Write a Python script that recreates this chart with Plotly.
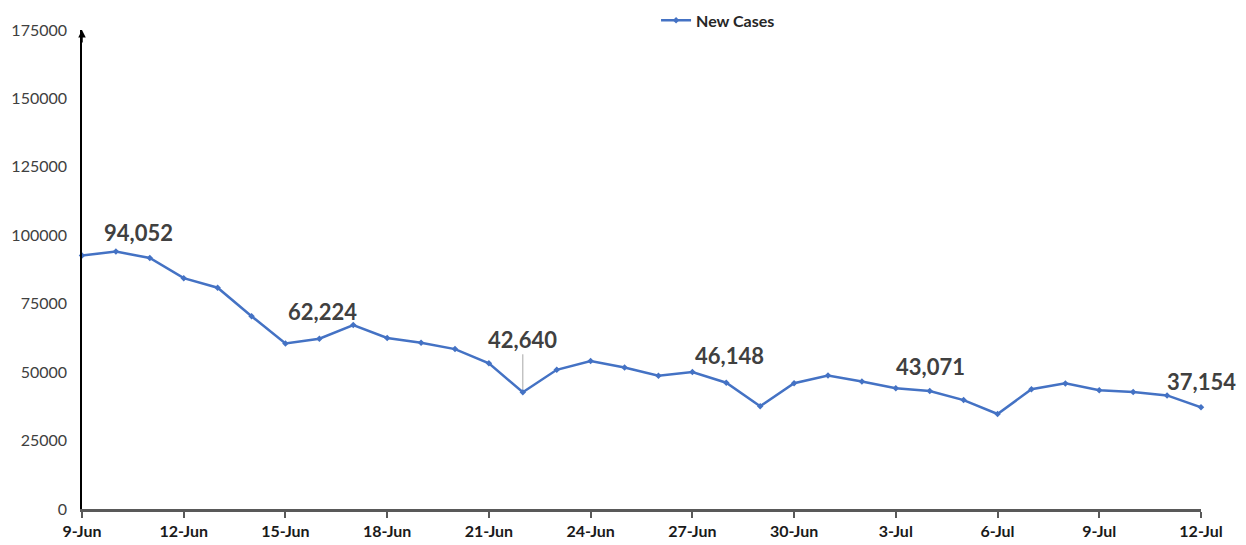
import plotly.graph_objects as go
import pandas as pd

dates = pd.date_range("2021-06-09", "2021-07-12", freq="D")
new_cases = [92596, 94052, 91702, 84332, 80834, 70421, 60471, 62224, 67208, 62480,
             60753, 58419, 53256, 42640, 50848, 54069, 51667, 48698, 50040, 46148,
             37566, 45951, 48786, 46617, 44111, 43071, 39796, 34703, 43733, 45892,
             43393, 42766, 41506, 37154]
labeled_dates = ["2021-06-10", "2021-06-16", "2021-06-22", "2021-06-28", "2021-07-04", "2021-07-12"]
label_xshift = [23, 3, 0, 3, 1, 0]
label_yshift = [19, 27, 0, 27, 25, 26]
y_ticks = [0, 25000, 50000, 75000, 100000, 125000, 150000, 175000]

blue = "#4472C4"
txt = "#404040"

fig = go.Figure()
fig.add_trace(go.Scatter(
    x=dates, y=new_cases, mode="lines+markers", name="New Cases",
    line=dict(color=blue, width=2.5),
    marker=dict(color=blue, size=5, symbol="diamond"),
    cliponaxis=False,
))

val_by_date = dict(zip(dates.strftime("%Y-%m-%d"), new_cases))
for d, xs, ys in zip(labeled_dates, label_xshift, label_yshift):
    v = val_by_date[d]
    if d == "2021-06-22":
        fig.add_annotation(x=d, y=v, text=f"{v:,}", showarrow=True, ax=0, ay=-53,
                           arrowhead=0, arrowwidth=1, arrowcolor="#a6a6a6", standoff=3,
                           font=dict(family="Lato", size=22, color=txt, weight="bold"))
    else:
        fig.add_annotation(x=d, y=v, text=f"{v:,}", showarrow=False, yshift=ys, xshift=xs,
                           font=dict(family="Lato", size=22, color=txt, weight="bold"))

# arrow at the top of y axis
fig.add_annotation(xref="paper", yref="paper", x=0, y=1.0, ax=0, ay=14, text="",
                   showarrow=True, arrowhead=2, arrowsize=1, arrowwidth=1.5, arrowcolor="#000000",
                   standoff=0)

fig.update_layout(
    width=1246, height=545,
    margin=dict(l=74, r=53, t=22, b=44, autoexpand=False),
    paper_bgcolor="white", plot_bgcolor="white",
    showlegend=True,
    legend=dict(x=0.513, y=1.02, xanchor="left", yanchor="middle", orientation="h",
                itemwidth=30,
                font=dict(family="Lato", size=16, color="#262626", weight="bold"),
                bgcolor="rgba(0,0,0,0)"),
    font=dict(family="Lato", color=txt),
)
fig.update_xaxes(
    type="date", range=[dates[0], dates[-1]], dtick=3 * 86400000, tick0=dates[0],
    tickformat="%-d-%b", showgrid=False, zeroline=False,
    showline=True, linecolor="#595959", linewidth=2.5,
    ticks="outside", ticklen=6, tickcolor="#595959", tickwidth=1.5,
    tickfont=dict(family="Lato", size=16, color="#1a1a1a", weight="bold"),
)
fig.update_yaxes(
    range=[0, 175000], tickvals=y_ticks, ticktext=[str(t) for t in y_ticks],
    showgrid=False, zeroline=False, showline=True, linecolor="#000000", linewidth=1.5,
    ticks="", tickfont=dict(family="Lato", size=16, color="#404040"), ticklabelstandoff=10,
)
fig.write_html("out.html")
